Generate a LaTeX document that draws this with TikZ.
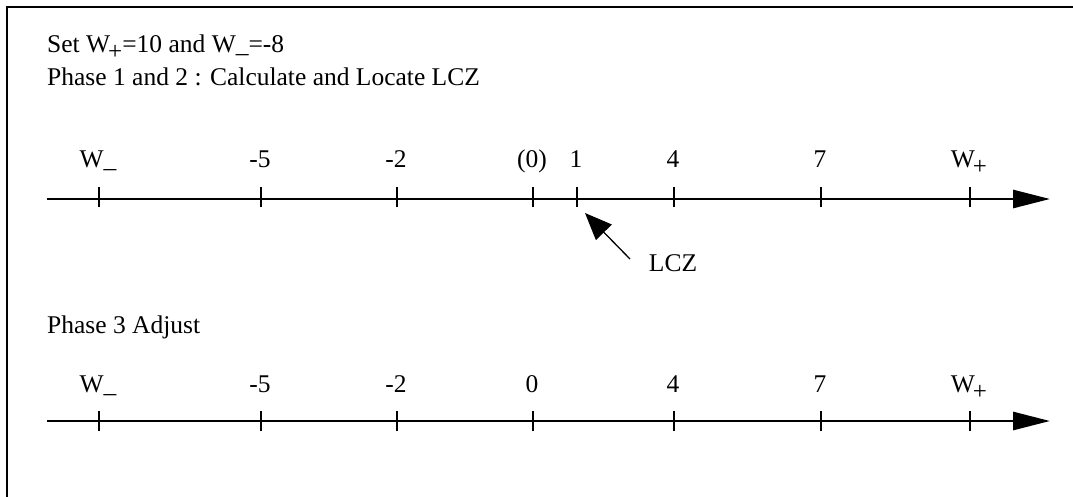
\documentclass[tikz,border=0pt]{standalone}
\usepackage{fontspec}
\setmainfont{Liberation Serif}
\usetikzlibrary{arrows.meta}
\newcommand{\wplus}{W\kern-2pt\raisebox{-7pt}{\fontsize{25}{25}\selectfont +}}
\begin{document}
\begin{tikzpicture}[x=1pt,y=-1pt,
  txt/.style={inner sep=0pt, font=\fontsize{25.5}{30}\selectfont},
  lbl/.style={txt, anchor=base},
  hdr/.style={txt, anchor=base west},
  axisline/.style={line width=2.8pt, -{Triangle[length=37pt,width=18pt]}},
  tickline/.style={line width=1.3pt},
  ptr/.style={line width=1.3pt, -{Triangle[length=27pt,width=22pt]}},
  frame/.style={line width=2.5pt}]
\useasboundingbox (0,0) rectangle (1073,496);
\draw[frame] (7,7) rectangle (1100,520);

% headers
\node[hdr] (set) at (47,52) {Set \wplus=10 and W\_=-8};
\node[hdr] (ph12) at (47,85) {Phase 1 and 2 : Calculate and Locate LCZ};
\node[hdr] (ph3) at (47,333) {Phase 3 Adjust};

% axis 1
\coordinate (a1s) at (47,199);
\coordinate (a1e) at (1050,199);
\draw[axisline] (a1s) -- (a1e);
\foreach \x/\t/\n in {99/W\_/wm, 261/-5/m5, 397/-2/m2, 533/(0)/z, 577/1/one, 674/4/four, 821/7/seven, 970/\wplus/wp}{
  \coordinate (a1\n t) at (\x,187);
  \coordinate (a1\n b) at (\x,207);
  \draw[tickline] (a1\n t) -- (a1\n b);
  \node[lbl] (a1\n l) at (\x-1,167) {\t};
}

% LCZ pointer
\coordinate (lczfrom) at (630,259);
\coordinate (lcztip) at (585,213);
\draw[ptr] (lczfrom) -- (lcztip);
\node[lbl] (lcz) at (673,271) {LCZ};

% axis 2
\coordinate (a2s) at (47,421);
\coordinate (a2e) at (1050,421);
\draw[axisline] (a2s) -- (a2e);
\foreach \x/\t/\n in {99/W\_/wm, 261/-5/m5, 397/-2/m2, 533/0/z, 674/4/four, 821/7/seven, 970/\wplus/wp}{
  \coordinate (a2\n t) at (\x,411);
  \coordinate (a2\n b) at (\x,431);
  \draw[tickline] (a2\n t) -- (a2\n b);
  \node[lbl] (a2\n l) at (\x-1,392) {\t};
}
\end{tikzpicture}
\end{document}
